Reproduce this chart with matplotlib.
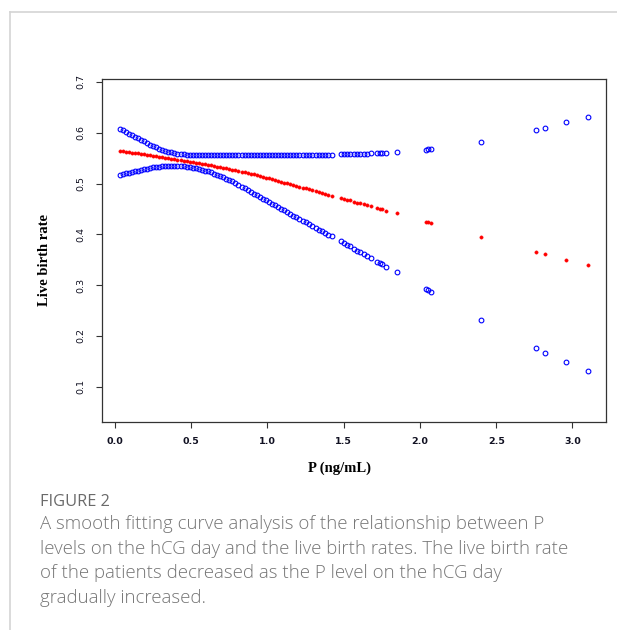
import matplotlib
matplotlib.use("Agg")
import matplotlib.pyplot as plt
from matplotlib.lines import Line2D

# P level (ng/mL) for each fitted point
p_level = [0.03, 0.05, 0.07, 0.09, 0.11, 0.13, 0.15, 0.17, 0.19, 0.21,
           0.23, 0.25, 0.27, 0.29, 0.31, 0.33, 0.35, 0.37, 0.39, 0.41,
           0.43, 0.45, 0.47, 0.49, 0.51, 0.53, 0.55, 0.57, 0.59, 0.61,
           0.63, 0.65, 0.67, 0.69, 0.71, 0.73, 0.75, 0.77, 0.79, 0.81,
           0.83, 0.85, 0.87, 0.89, 0.91, 0.93, 0.95, 0.97, 0.99, 1.01,
           1.03, 1.05, 1.07, 1.09, 1.11, 1.13, 1.15, 1.17, 1.19, 1.21,
           1.23, 1.25, 1.27, 1.29, 1.32, 1.34, 1.36, 1.38, 1.40, 1.42,
           1.48, 1.50, 1.52, 1.54, 1.57, 1.59, 1.61, 1.63, 1.65, 1.68,
           1.72, 1.74, 1.75, 1.78, 1.85, 2.04, 2.05, 2.07, 2.40, 2.76,
           2.82, 2.96, 3.10]

# fitted live birth rate (red)
fit = [0.5649, 0.5640, 0.5630, 0.5621, 0.5611, 0.5602, 0.5593, 0.5583, 0.5574, 0.5564,
       0.5555, 0.5545, 0.5536, 0.5527, 0.5517, 0.5508, 0.5498, 0.5489, 0.5480, 0.5470,
       0.5461, 0.5451, 0.5442, 0.5433, 0.5423, 0.5414, 0.5404, 0.5395, 0.5386, 0.5374,
       0.5361, 0.5349, 0.5336, 0.5323, 0.5311, 0.5298, 0.5286, 0.5273, 0.5260, 0.5248,
       0.5235, 0.5223, 0.5210, 0.5197, 0.5183, 0.5166, 0.5150, 0.5134, 0.5117, 0.5101,
       0.5084, 0.5068, 0.5052, 0.5035, 0.5019, 0.5002, 0.4986, 0.4970, 0.4953, 0.4937,
       0.4921, 0.4904, 0.4888, 0.4871, 0.4847, 0.4830, 0.4814, 0.4798, 0.4781, 0.4765,
       0.4716, 0.4699, 0.4683, 0.4667, 0.4642, 0.4625, 0.4609, 0.4592, 0.4576, 0.4551,
       0.4519, 0.4502, 0.4494, 0.4469, 0.4412, 0.4245, 0.4235, 0.4220, 0.3940, 0.3650,
       0.3610, 0.3500, 0.3390]

# upper 95% CI (blue)
upper = [0.6078, 0.6046, 0.6014, 0.5983, 0.5952, 0.5921, 0.5890, 0.5859, 0.5829, 0.5799,
         0.5768, 0.5740, 0.5714, 0.5690, 0.5668, 0.5648, 0.5630, 0.5614, 0.5601, 0.5590,
         0.5581, 0.5575, 0.5569, 0.5565, 0.5561, 0.5558, 0.5556, 0.5555, 0.5555, 0.5555,
         0.5555, 0.5555, 0.5555, 0.5555, 0.5555, 0.5555, 0.5555, 0.5555, 0.5555, 0.5555,
         0.5555, 0.5555, 0.5555, 0.5555, 0.5556, 0.5556, 0.5557, 0.5557, 0.5557, 0.5558,
         0.5558, 0.5558, 0.5559, 0.5559, 0.5559, 0.5560, 0.5560, 0.5561, 0.5561, 0.5562,
         0.5562, 0.5562, 0.5563, 0.5563, 0.5564, 0.5565, 0.5566, 0.5567, 0.5568, 0.5569,
         0.5573, 0.5575, 0.5577, 0.5579, 0.5582, 0.5584, 0.5586, 0.5588, 0.5590, 0.5593,
         0.5596, 0.5598, 0.5599, 0.5603, 0.5616, 0.5670, 0.5673, 0.5680, 0.5825, 0.6050,
         0.6090, 0.6210, 0.6320]

# lower 95% CI (blue)
lower = [0.5178, 0.5191, 0.5204, 0.5217, 0.5231, 0.5244, 0.5257, 0.5270, 0.5282, 0.5294,
         0.5306, 0.5317, 0.5327, 0.5336, 0.5344, 0.5350, 0.5354, 0.5355, 0.5353, 0.5350,
         0.5346, 0.5340, 0.5332, 0.5323, 0.5313, 0.5301, 0.5288, 0.5273, 0.5256, 0.5238,
         0.5219, 0.5198, 0.5175, 0.5151, 0.5126, 0.5099, 0.5071, 0.5041, 0.5009, 0.4976,
         0.4942, 0.4906, 0.4869, 0.4833, 0.4800, 0.4767, 0.4734, 0.4701, 0.4668, 0.4635,
         0.4602, 0.4569, 0.4536, 0.4503, 0.4470, 0.4437, 0.4404, 0.4371, 0.4338, 0.4305,
         0.4272, 0.4239, 0.4206, 0.4173, 0.4124, 0.4091, 0.4058, 0.4025, 0.3992, 0.3959,
         0.3860, 0.3827, 0.3794, 0.3761, 0.3711, 0.3678, 0.3645, 0.3612, 0.3579, 0.3530,
         0.3464, 0.3431, 0.3414, 0.3365, 0.3249, 0.2925, 0.2905, 0.2860, 0.2320, 0.1770,
         0.1670, 0.1480, 0.1310]

xticks = [0.0, 0.5, 1.0, 1.5, 2.0, 2.5, 3.0]
yticks = [0.1, 0.2, 0.3, 0.4, 0.5, 0.6, 0.7]

caption_head = "FIGURE 2"
caption_lines = ["A smooth fitting curve analysis of the relationship between P",
                 "levels on the hCG day and the live birth rates. The live birth rate",
                 "of the patients decreased as the P level on the hCG day",
                 "gradually increased."]

W, H = 617, 630
fig = plt.figure(figsize=(W / 100, H / 100), dpi=100)

# light frame of the figure panel
fig.add_artist(Line2D([10 / W, 1], [1 - 12 / H, 1 - 12 / H], color="#d4d4d4", lw=1.2))
fig.add_artist(Line2D([10 / W, 10 / W], [0, 1 - 12 / H], color="#d4d4d4", lw=1.2))

ax = fig.add_axes([101.7 / W, 1 - 421.7 / H, (606 - 101.7) / W, (421.7 - 79) / H])

ax.plot(p_level, upper, "o", ms=3.4, mfc="none", mec="#0000ff", mew=0.8)
ax.plot(p_level, lower, "o", ms=3.4, mfc="none", mec="#0000ff", mew=0.8)
ax.plot(p_level, fit, "o", ms=2.5, mfc="#ff0000", mec="#ff0000", mew=0.2)

ax.set_xlim(-0.087, 3.22)
ax.set_ylim(0.0311, 0.7059)

for s in ax.spines.values():
    s.set_color("#333333")
    s.set_linewidth(0.9)

ax.set_xticks(xticks)
ax.set_xticklabels(["%.1f" % v for v in xticks], fontsize=6.8, fontweight="bold",
                   family="DejaVu Sans", color="#111122")
ax.set_yticks(yticks)
ax.set_yticklabels(["%.1f" % v for v in yticks], fontsize=6.8, rotation=90,
                   va="center", family="DejaVu Sans", color="#111122")
ax.tick_params(axis="both", direction="out", length=4.3, width=0.8, color="#333333")
ax.tick_params(axis="x", pad=6.5)
ax.tick_params(axis="y", pad=7.5)

fig.text(340 / W, 1 - 468 / H, "P (ng/mL)", ha="center", va="center",
         family="Liberation Serif", fontweight="bold", fontsize=10.5)
fig.text(45 / W, 1 - 260 / H, "Live birth rate", ha="center", va="center", rotation=90,
         family="Liberation Serif", fontweight="bold", fontsize=10.5)

# caption, sized so the first two lines span about 493 and 538 px
cap_font = "Open Sans"
widths = 0.0
for line in caption_lines[:2]:
    probe = fig.text(0, 0, line, fontsize=12, family=cap_font, fontweight="light")
    fig.canvas.draw()
    widths += probe.get_window_extent().width
    probe.remove()
cap_size = 12 * (493.0 + 538.0) / widths

fig.text(40 / W, 1 - 502 / H, caption_head, ha="left", va="center", family=cap_font,
         fontsize=cap_size * 0.88, color="#6a6a6a")
for i, line in enumerate(caption_lines):
    fig.text(40 / W, 1 - (524 + 24.7 * i) / H, line, ha="left", va="center",
             family=cap_font, fontweight="light", fontsize=cap_size, color="#757575")

fig.savefig("out.png", dpi=100)
